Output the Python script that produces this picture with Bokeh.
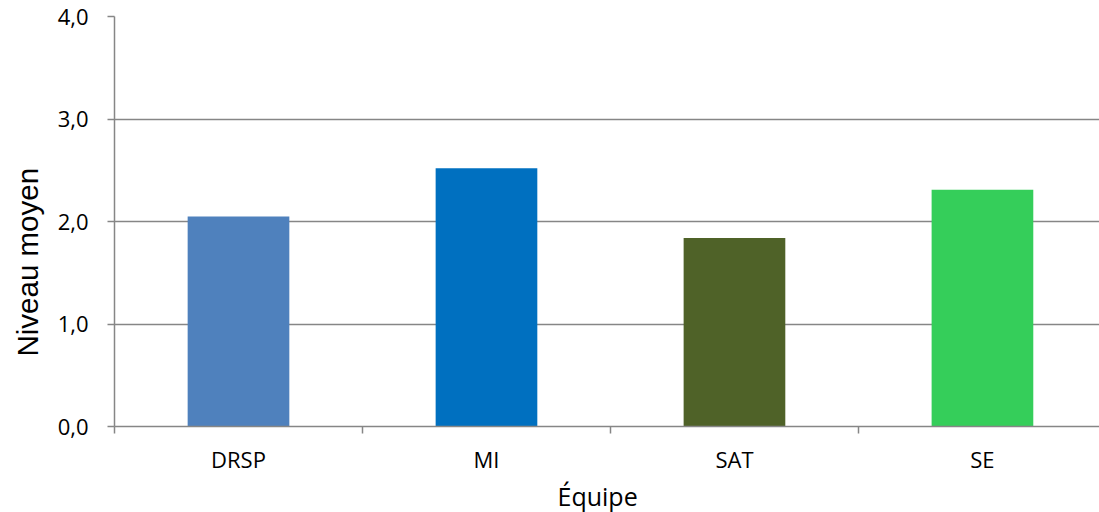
from bokeh.plotting import figure
from bokeh.models import Range1d, FixedTicker, Title
from bokeh.embed import file_html
from bokeh.resources import INLINE

# Average level per team
teams = ["DRSP", "MI", "SAT", "SE"]
levels = [2.05, 2.52, 1.84, 2.31]
bar_colors = ["#4F81BD", "#0070C0", "#4F6228", "#35CE5A"]
y_ticks = [0, 1, 2, 3, 4]
y_tick_labels = ["0,0", "1,0", "2,0", "3,0", "4,0"]

GRAY = "#868686"
TICK_FONT = "Open Sans"

positions = [i + 0.5 for i in range(len(teams))]

p = figure(
    width=1099, height=512,
    x_range=Range1d(0, 3.972), y_range=Range1d(0, 4),
    output_backend="svg", toolbar_location=None,
    min_border_left=114, min_border_right=0,
    min_border_top=16, min_border_bottom=85,
)
p.outline_line_color = None
p.background_fill_color = "white"
p.border_fill_color = "white"

p.vbar(x=positions, top=levels, width=0.41, color=bar_colors, line_color=None)

# y axis
p.yaxis.ticker = FixedTicker(ticks=y_ticks, minor_ticks=[])
p.yaxis.major_label_overrides = {float(t): s for t, s in zip(y_ticks, y_tick_labels)}
p.yaxis.axis_line_color = GRAY
p.yaxis.axis_line_width = 1.5
p.yaxis.major_tick_line_color = GRAY
p.yaxis.major_tick_line_width = 1.5
p.yaxis.major_tick_out = 7
p.yaxis.major_tick_in = 0
p.yaxis.major_label_standoff = 19
p.yaxis.major_label_text_font = TICK_FONT
p.yaxis.major_label_text_font_size = "22px"
p.yaxis.major_label_text_color = "#000000"

# x axis: labels centred on bars, tick marks between categories
p.xaxis.ticker = FixedTicker(ticks=positions, minor_ticks=list(range(len(teams) + 1)))
p.xaxis.major_label_overrides = {float(x): t for x, t in zip(positions, teams)}
p.xaxis.axis_line_color = GRAY
p.xaxis.axis_line_width = 1.5
p.xaxis.major_tick_line_color = None
p.xaxis.major_tick_out = 0
p.xaxis.major_tick_in = 0
p.xaxis.minor_tick_line_color = GRAY
p.xaxis.minor_tick_line_width = 1.5
p.xaxis.minor_tick_out = 7
p.xaxis.minor_tick_in = 0
p.xaxis.major_label_standoff = 10
p.xaxis.major_label_text_font = TICK_FONT
p.xaxis.major_label_text_font_size = "22px"
p.xaxis.major_label_text_color = "#000000"

p.xgrid.grid_line_color = None
p.ygrid.ticker = FixedTicker(ticks=y_ticks)
p.ygrid.grid_line_color = GRAY
p.ygrid.grid_line_width = 1.5

# axis titles
p.add_layout(Title(
    text="Équipe", align="left", offset=443, standoff=0,
    text_font=TICK_FONT, text_font_size="25px", text_font_style="normal",
    text_color="#000000",
), "below")
p.add_layout(Title(
    text="Niveau moyen", align="left", offset=70, standoff=18,
    vertical_align="top",
    text_font="Liberation Sans", text_font_size="29.5px", text_font_style="normal",
    text_color="#000000",
), "left")

open("out.html", "w").write(file_html(p, INLINE))
